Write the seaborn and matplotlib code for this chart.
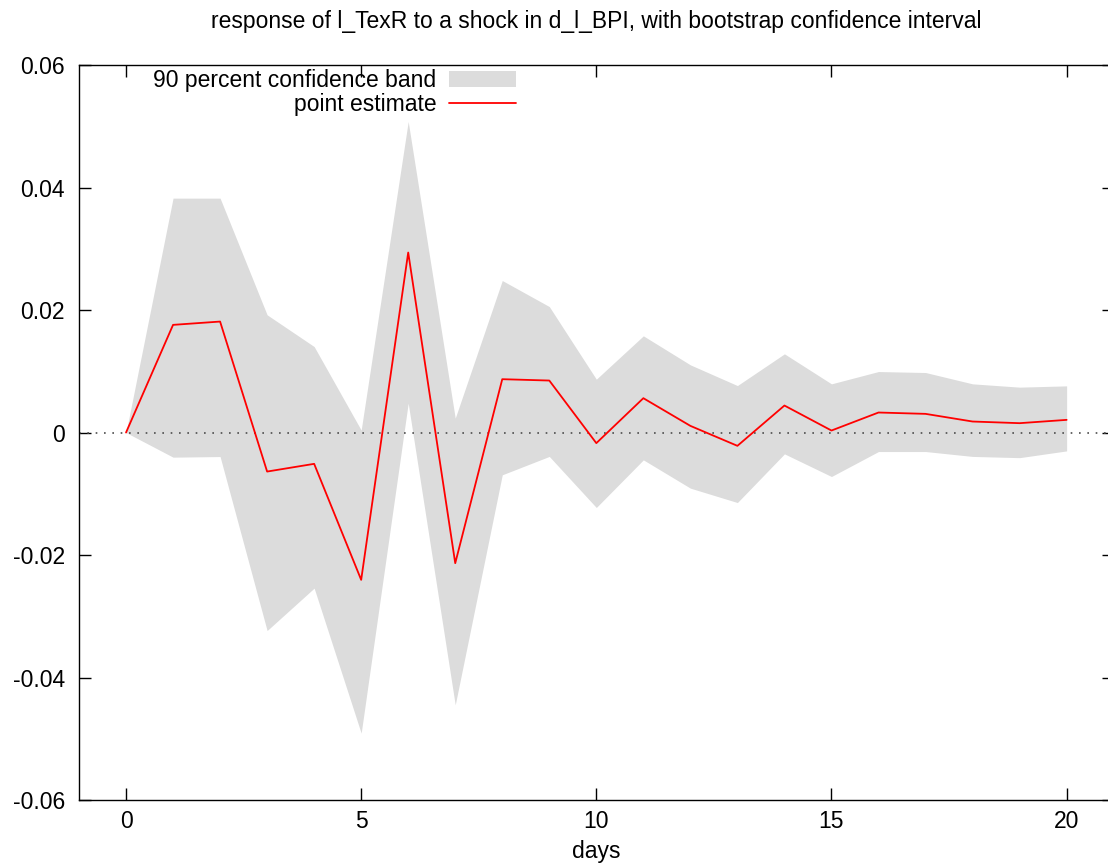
import numpy as np
import pandas as pd
import matplotlib
matplotlib.use("Agg")
import matplotlib.pyplot as plt
import seaborn as sns

# impulse response values
days = list(range(21))
point_estimate = [0.0, 0.01758, 0.01812, -0.00637, -0.00511, -0.02405, 0.02939,
                  -0.02133, 0.00871, 0.00849, -0.00173, 0.00561, 0.00109, -0.00217,
                  0.00441, 0.00033, 0.00327, 0.00305, 0.00180, 0.00153, 0.00207]
band_upper = [0.0, 0.03827, 0.03827, 0.01922, 0.01404, 0.0004, 0.05078,
              0.00235, 0.02482, 0.02057, 0.00871, 0.01579, 0.01105, 0.00767,
              0.01285, 0.00795, 0.00996, 0.00980, 0.00795, 0.00741, 0.00762]
band_lower = [0.0, -0.00402, -0.00392, -0.03233, -0.02540, -0.04908, 0.00480,
              -0.04446, -0.00690, -0.00390, -0.01224, -0.00446, -0.00908, -0.01143,
              -0.00348, -0.00718, -0.00310, -0.00310, -0.00390, -0.00410, -0.00300]

x_ticks = [0, 5, 10, 15, 20]
y_ticks = [-0.06, -0.04, -0.02, 0, 0.02, 0.04, 0.06]
y_tick_labels = ["-0.06", "-0.04", "-0.02", "0", "0.02", "0.04", "0.06"]

df = pd.DataFrame({"days": days, "irf": point_estimate,
                   "lo": band_lower, "hi": band_upper})

sns.set_style("ticks")
plt.rcParams["font.family"] = ["Liberation Sans", "DejaVu Sans"]
plt.rcParams["text.color"] = "black"
plt.rcParams["axes.labelcolor"] = "black"
fs = 16.5

fig = plt.figure(figsize=(11.08, 8.65), dpi=100)
ax = fig.add_axes([0.0713, 0.0751, 0.9338, 0.8497])

ax.fill_between(df["days"], df["lo"], df["hi"], color="#dcdcdc", lw=0,
                label="90 percent confidence band")
sns.lineplot(data=df, x="days", y="irf", ax=ax, color="#ff0000", lw=1.3,
             label="point estimate")
ax.axhline(0, color="0.3", lw=1.2, ls=(0, (1, 4)), zorder=1)

ax.set_xlim(-1, 21)
ax.set_ylim(-0.06, 0.06)
ax.set_xticks(x_ticks)
ax.set_yticks(y_ticks)
ax.set_yticklabels(y_tick_labels)
ax.tick_params(direction="in", length=8.5, width=1, labelsize=fs,
               top=True, right=True, colors="black")
ax.tick_params(axis="y", pad=10)
ax.tick_params(axis="x", pad=7)
for s in ax.spines.values():
    s.set_linewidth(1.0)
    s.set_color("black")

ax.set_xlabel("days", fontsize=fs, labelpad=5)
ax.set_ylabel("")
ax.set_title("response of l_TexR to a shock in d_l_BPI, with bootstrap confidence interval",
             fontsize=fs, pad=27, color="black")

ax.legend(loc="upper right", bbox_to_anchor=(0.433, 1.01), frameon=False,
          markerfirst=False, fontsize=fs, borderpad=0, handlelength=2.9,
          handleheight=0.65, handletextpad=0.55, labelspacing=0.05)

fig.savefig("out.png", dpi=100)
